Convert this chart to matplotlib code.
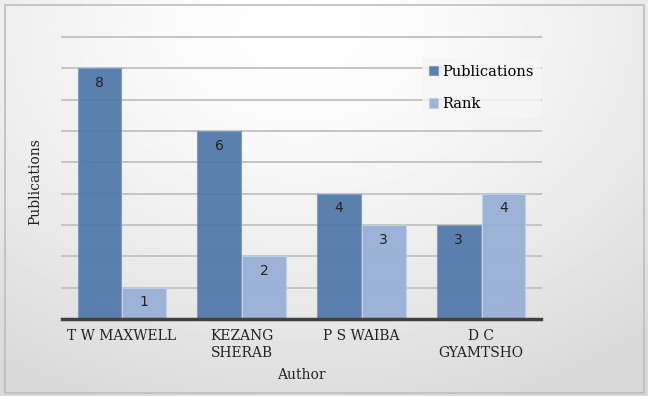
import numpy as np
import matplotlib.pyplot as plt
import matplotlib.patches as mpatches


authors = ['T W MAXWELL', 'KEZANG\nSHERAB', 'P S WAIBA', 'D C\nGYAMTSHO']
publications = [8, 6, 4, 3]
rank = [1, 2, 3, 4]

pub_color = '#4f77a9'
rank_color = '#97aed6'


def main():

	fig = plt.figure(figsize=(6.48, 3.96), dpi=100)

	#Background: soft radial shading inside a grey frame
	bg = fig.add_axes([0, 0, 1, 1], zorder=-10)
	yy, xx = np.mgrid[0:396, 0:648]
	r = np.sqrt(((xx - 300) / 540.0)**2 + ((yy - 30) / 400.0)**2)
	shade = 1.0 - 0.15*np.clip(r, 0, 1)**1.4
	bg.imshow(shade, cmap='gray', vmin=0, vmax=1, extent=[0, 648, 396, 0], aspect='auto')
	bg.add_patch(mpatches.Rectangle((4.5, 4.5), 639, 388, fill=False, edgecolor='#bdbdbd', lw=1.2))
	bg.set_xlim(0, 648)
	bg.set_ylim(396, 0)
	bg.axis('off')

	ax = fig.add_axes([62/648, 1 - 319/396, (541 - 62)/648, (319 - 37)/396])
	ax.patch.set_alpha(0)

	x = np.arange(len(authors))
	w = 0.365
	b1 = ax.bar(x - w/2 - 0.004, publications, w, color=pub_color, alpha=0.93,
		edgecolor='#7f9cc4', lw=0.8, zorder=3, label='Publications')
	b2 = ax.bar(x + w/2 + 0.004, rank, w, color=rank_color, alpha=0.93,
		edgecolor='#c2d0e8', lw=0.8, zorder=3, label='Rank')

	for bars, vals in [(b1, publications), (b2, rank)]:
		for bar, v in zip(bars, vals):
			ax.text(bar.get_x() + bar.get_width()/2, v - 0.47, str(v),
				ha='center', va='center', fontsize=10, color='#222222', zorder=5)

	ax.set_xlim(-0.5, len(authors) - 0.5)
	ax.set_ylim(0, 9)
	ax.set_yticks(np.arange(1, 10))
	ax.yaxis.grid(True, color='#c4c4c4', lw=1.4, zorder=1)
	for gl in ax.get_ygridlines():
		gl.set_clip_on(False)
	ax.set_axisbelow(True)
	ax.tick_params(axis='y', length=0, labelleft=False)
	ax.tick_params(axis='x', length=0, pad=7)
	ax.set_xticks(x)
	ax.set_xticklabels(authors, fontsize=10, family='DejaVu Serif', color='#222222', linespacing=1.3)

	for s in ['top', 'right', 'left']:
		ax.spines[s].set_visible(False)
	ax.spines['bottom'].set_color('#404040')
	ax.spines['bottom'].set_linewidth(2.5)
	ax.spines['bottom'].set_zorder(6)

	ax.set_xlabel('Author', fontsize=10, family='DejaVu Serif', color='#222222', labelpad=6)
	fig.text(35/648, 1 - 182/396, 'Publications', rotation=90, ha='center', va='center',
		fontsize=10, family='DejaVu Serif', color='#222222')

	leg = ax.legend(loc='upper right', bbox_to_anchor=(1.0, 0.927), frameon=True,
		prop={'family': 'DejaVu Serif', 'size': 10.5}, handlelength=0.6, handleheight=0.6,
		handletextpad=0.3, labelspacing=1.25, borderpad=0.5, borderaxespad=0)
	leg.get_frame().set_facecolor('#f6f6f6')
	leg.get_frame().set_edgecolor('none')
	leg.get_frame().set_alpha(0.8)

	fig.savefig('out.png', dpi=100)

	return


if __name__ == "__main__": main()
